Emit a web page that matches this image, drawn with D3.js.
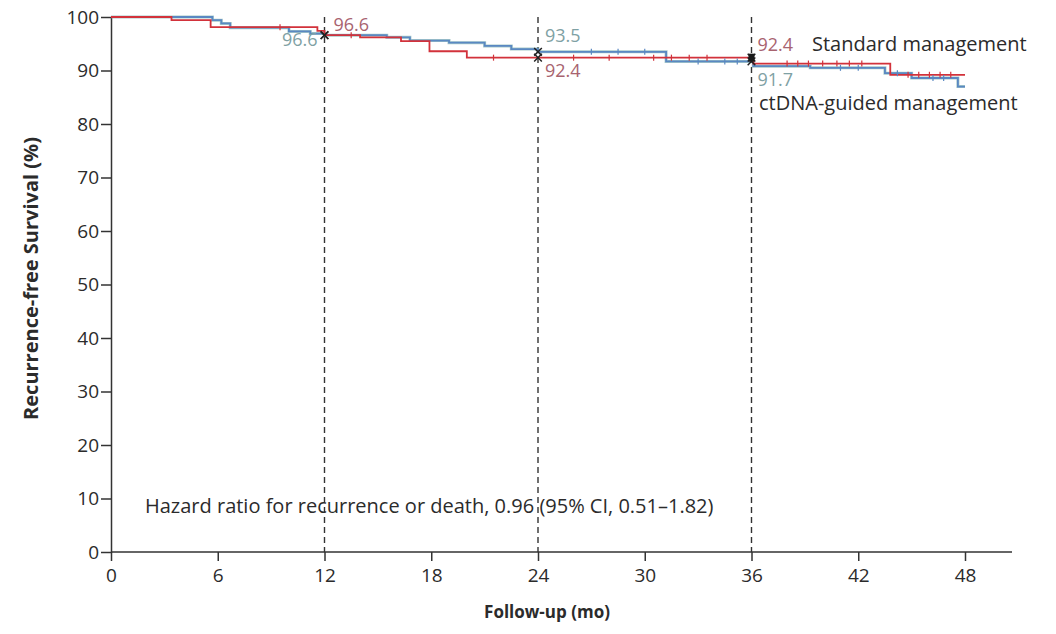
<!DOCTYPE html>
<html>
<head>
<meta charset="utf-8">
<script src="https://cdn.jsdelivr.net/npm/d3@7"></script>
<style>
  body { margin: 0; background: #fff; }
  text { font-family: "Open Sans", "Noto Sans", sans-serif; fill: #2b2b2b; }
</style>
</head>
<body>
<div id="chart"></div>
<script>
// Kaplan-Meier steps: [month, survival %]
var standardSteps = [
  [0, 100], [3.4, 99.4], [5.6, 98.1], [11.6, 97.4], [12.0, 96.6], [14.0, 96.2],
  [16.3, 95.5], [17.9, 93.6], [20.0, 92.4], [36.1, 91.3], [43.8, 89.2], [48, 89.2]
];
var ctdnaSteps = [
  [0, 100], [5.7, 99.4], [6.2, 98.8], [6.7, 98.0], [10.0, 97.3], [11.2, 96.9],
  [12.0, 96.6], [15.5, 96.2], [16.8, 95.6], [19.0, 95.2], [21.0, 94.6], [22.5, 94.0],
  [24.0, 93.5], [31.2, 91.7], [36.1, 90.8], [39.3, 90.5], [43.5, 89.5], [45.0, 88.6],
  [47.6, 87.0], [48, 87.0]
];
// censored observations (months)
var standardCensor = [9.5, 13.5, 21.5, 26, 28, 30.5, 31.5, 32.5, 33.5, 38, 38.6, 39.2, 40, 40.8, 41.5, 42.2, 44.8, 45.4, 46, 46.6, 47.2];
var ctdnaCensor = [27, 28.5, 30, 33, 34.5, 35.2, 41, 42, 44.2, 46.2, 46.8];

// landmark estimates
var landmarks = [12, 24, 36];
var standardAt = [96.6, 92.4, 92.4];
var ctdnaAt = [96.6, 93.5, 91.7];

var xTicks = [0, 6, 12, 18, 24, 30, 36, 42, 48];
var yTicks = [0, 10, 20, 30, 40, 50, 60, 70, 80, 90, 100];

var redLine = "#d2323b", blueLine = "#5a88c2";
var redNum = "#a8636f", tealNum = "#7fa1a4";

var W = 1056, H = 634;
var svg = d3.select("#chart").append("svg").attr("width", W).attr("height", H);

var x = d3.scaleLinear().domain([0, 48]).range([111, 965]);
var y = d3.scaleLinear().domain([0, 100]).range([552, 17]);

// axes
var xAxis = svg.append("g")
  .attr("transform", "translate(0," + y(0) + ")")
  .call(d3.axisBottom(x).tickValues(xTicks).tickSize(9).tickPadding(5).tickSizeOuter(0));
xAxis.select(".domain").attr("d", "M" + x(0) + ",0H1012");
var yAxis = svg.append("g")
  .attr("transform", "translate(" + x(0) + ",0)")
  .call(d3.axisLeft(y).tickValues(yTicks).tickSize(10).tickPadding(2).tickSizeOuter(0));
svg.selectAll(".domain, .tick line").attr("stroke", "#333").attr("stroke-width", 1.5);
svg.selectAll(".tick text").style("font-size", "19px").attr("fill", "#2b2b2b");
xAxis.selectAll(".tick text").attr("dy", "0.85em");

// dashed landmark lines
svg.selectAll(".landmark").data(landmarks).enter().append("line")
  .attr("x1", d => x(d)).attr("x2", d => x(d))
  .attr("y1", y(100)).attr("y2", y(0))
  .attr("stroke", "#333").attr("stroke-width", 1.4)
  .attr("stroke-dasharray", "6,4");

// curves
var step = d3.line().x(d => x(d[0])).y(d => y(d[1])).curve(d3.curveStepAfter);
svg.append("path").datum(ctdnaSteps).attr("d", step)
  .attr("fill", "none").attr("stroke", "#6fa6a6").attr("stroke-width", 3).attr("opacity", 0.6);
svg.append("path").datum(ctdnaSteps).attr("d", step)
  .attr("fill", "none").attr("stroke", blueLine).attr("stroke-width", 1.8);
svg.append("path").datum(standardSteps).attr("d", step)
  .attr("fill", "none").attr("stroke", redLine).attr("stroke-width", 1.8);

function valueAt(steps, t) {
  var v = steps[0][1];
  steps.forEach(s => { if (s[0] <= t) v = s[1]; });
  return v;
}
function censorMarks(times, steps, color) {
  svg.append("g").selectAll("line").data(times).enter().append("line")
    .attr("x1", d => x(d)).attr("x2", d => x(d))
    .attr("y1", d => y(valueAt(steps, d)) - 3).attr("y2", d => y(valueAt(steps, d)) + 3)
    .attr("stroke", color).attr("stroke-width", 1.2);
}
censorMarks(ctdnaCensor, ctdnaSteps, blueLine);
censorMarks(standardCensor, standardSteps, redLine);

// landmark markers
var cross = d3.symbol().type(d3.symbolTimes).size(40);
[standardAt, ctdnaAt].forEach(vals => {
  svg.append("g").selectAll("path").data(landmarks).enter().append("path")
    .attr("d", cross)
    .attr("transform", (d, i) => "translate(" + x(d) + "," + y(vals[i]) + ")")
    .attr("stroke", "#222").attr("stroke-width", 1.5).attr("fill", "none");
});
svg.append("rect")
  .attr("x", x(36) - 3).attr("y", y(92.4) - 4).attr("width", 6).attr("height", 8)
  .attr("fill", "#1a1a1a");

// landmark numbers
var numSize = "18px";
function num(t, v, dx, yPix, anchor, color) {
  svg.append("text").attr("x", x(t) + dx).attr("y", yPix)
    .attr("text-anchor", anchor).style("font-size", numSize)
    .style("fill", color).text(v.toFixed(1));
}
num(12, standardAt[0], 9, 31, "start", redNum);
num(12, ctdnaAt[0], -7, 46, "end", tealNum);
num(24, ctdnaAt[1], 7, 42, "start", tealNum);
num(24, standardAt[1], 7, 77, "start", redNum);
num(36, standardAt[2], 6, 51, "start", redNum);
num(36, ctdnaAt[2], 6, 86, "start", tealNum);

// series names
svg.append("text").attr("x", 812).attr("y", 51).style("font-size", "20px")
  .text("Standard management");
svg.append("text").attr("x", 759).attr("y", 110).style("font-size", "20px")
  .text("ctDNA-guided management");

// hazard ratio note
svg.append("text").attr("x", 145).attr("y", 513).style("font-size", "20px")
  .text("Hazard ratio for recurrence or death, 0.96 (95% CI, 0.51\u20131.82)");

// axis titles
svg.append("text").attr("x", 547).attr("y", 618)
  .attr("text-anchor", "middle").style("font-size", "17px").style("font-weight", "bold")
  .text("Follow-up (mo)");
svg.append("text")
  .attr("transform", "translate(38," + (y(50) - 6) + ") rotate(-90)")
  .attr("text-anchor", "middle").style("font-size", "20px").style("font-weight", "bold")
  .text("Recurrence-free Survival (%)");
</script>
</body>
</html>
